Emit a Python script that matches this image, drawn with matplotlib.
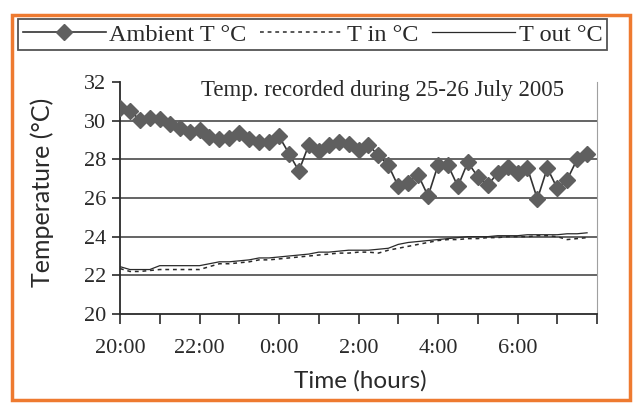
import numpy as np
import pandas as pd
import matplotlib
matplotlib.use("Agg")
import matplotlib.pyplot as plt
from matplotlib.lines import Line2D
from matplotlib.patches import Rectangle

# readings every 15 min, 25-26 July 2005
times = pd.date_range("2005-07-25 20:00", periods=48, freq="15min")

ambient = [30.65, 30.5, 30.05, 30.15, 30.1, 29.85, 29.6, 29.4, 29.5, 29.15,
           29.05, 29.1, 29.35, 29.05, 28.9, 28.9, 29.2, 28.3, 27.4, 28.75,
           28.45, 28.75, 28.9, 28.8, 28.5, 28.75, 28.2, 27.7, 26.6, 26.8,
           27.2, 26.1, 27.7, 27.7, 26.6, 27.85, 27.1, 26.65, 27.3, 27.6,
           27.3, 27.55, 25.95, 27.55, 26.5, 26.95, 28.0, 28.3]

t_in = [22.35, 22.2, 22.2, 22.25, 22.3, 22.3, 22.3, 22.3, 22.3, 22.45,
        22.6, 22.6, 22.65, 22.7, 22.8, 22.8, 22.85, 22.9, 22.95, 23.0,
        23.05, 23.1, 23.15, 23.15, 23.2, 23.2, 23.15, 23.3, 23.4, 23.5,
        23.6, 23.7, 23.8, 23.85, 23.85, 23.9, 23.9, 23.95, 23.95, 24.0,
        24.0, 24.0, 24.05, 24.05, 24.0, 23.85, 23.9, 23.95]

t_out = [22.45, 22.3, 22.3, 22.3, 22.5, 22.5, 22.5, 22.5, 22.5, 22.6,
         22.7, 22.7, 22.75, 22.8, 22.9, 22.9, 22.95, 23.0, 23.05, 23.1,
         23.2, 23.2, 23.25, 23.3, 23.3, 23.3, 23.35, 23.4, 23.6, 23.7,
         23.75, 23.8, 23.85, 23.9, 23.95, 24.0, 24.0, 24.0, 24.05, 24.05,
         24.05, 24.1, 24.1, 24.1, 24.1, 24.15, 24.15, 24.2]

hour_ticks = pd.date_range("2005-07-25 20:00", "2005-07-26 08:00", freq="1h")
hour_labels = ["20:00", "", "22:00", "", "0:00", "", "2:00", "", "4:00", "",
               "6:00", "", ""]
y_ticks = [20, 22, 24, 26, 28, 30, 32]

serif = "Liberation Serif"
sans = "Lato"
ink = "#2a2a2a"

fig = plt.figure(figsize=(6.35, 4.12), dpi=100)
ax = fig.add_axes([120 / 635, 1 - 314 / 412, 477 / 635, 232 / 412])

ax.plot(times, ambient, color="#333333", lw=1.2, marker="D", ms=8.5,
        mfc="#5f5f5f", mec="#5f5f5f", zorder=4)
ax.plot(times, t_in, color=ink, lw=1.1, ls=(0, (2.5, 2.5)), zorder=3)
ax.plot(times, t_out, color=ink, lw=0.9, zorder=3)

ax.set_xlim(hour_ticks[0], hour_ticks[-1])
ax.set_ylim(20, 32)
ax.set_xticks(hour_ticks)
ax.set_xticklabels(hour_labels, fontfamily=serif, fontsize=16, color=ink)
ax.set_yticks(y_ticks)
ax.set_yticklabels([str(v) for v in y_ticks], fontfamily=serif, fontsize=16,
                   color=ink)
ax.tick_params(axis="x", direction="out", length=7, width=1.2, pad=11,
               color=ink)
ax.tick_params(axis="y", direction="out", length=6, width=1.2, pad=4,
               color=ink)

for v in y_ticks[1:-1]:
    ax.axhline(v, color="#3a3a3a", lw=1.1, zorder=1)

ax.spines["top"].set_visible(False)
ax.spines["right"].set_color("#a0a0a0")
ax.spines["right"].set_linestyle((0, (1, 1)))
ax.spines["right"].set_linewidth(0.8)
ax.spines["left"].set_color(ink)
ax.spines["left"].set_linewidth(1.3)
ax.spines["bottom"].set_color(ink)
ax.spines["bottom"].set_linewidth(1.3)

ax.text(0.551, 0.965, "Temp. recorded during 25-26 July 2005",
        transform=ax.transAxes, ha="center", va="center",
        fontfamily=serif, fontsize=16.5, color=ink)

fig.text(360 / 635, 1 - 381 / 412, "Time (hours)", ha="center",
         va="center", fontfamily=sans, fontsize=17.5, color=ink)
fig.text(42 / 635, 1 - 192 / 412, "Temperature (°C)", ha="center",
         va="center", rotation=90, fontfamily=sans, fontsize=18, color=ink)

# orange frame around the chart
fig.add_artist(Rectangle((12 / 635, 1 - 400 / 412), 618 / 635, 385 / 412,
                         transform=fig.transFigure, fill=False,
                         edgecolor="#ee7a30", lw=2.5))

handles = [
    Line2D([], [], color="#333333", lw=1.2, marker="D", ms=8.5,
           mfc="#5f5f5f", mec="#5f5f5f"),
    Line2D([], [], color=ink, lw=1.1, ls=(0, (2.5, 2.5))),
    Line2D([], [], color=ink, lw=0.9),
]
labels = ["Ambient T °C", "T in °C", "T out °C"]
leg = fig.legend(handles, labels, loc="center", ncol=3, mode="expand",
                 bbox_to_anchor=(18 / 635, 1 - 51 / 412, 589 / 635, 33 / 412),
                 prop={"family": serif, "size": 17.5}, handlelength=3.4,
                 handletextpad=0.15, columnspacing=0.5, borderpad=0.2,
                 frameon=True, fancybox=False, borderaxespad=0)
leg.get_frame().set_edgecolor(ink)
leg.get_frame().set_linewidth(1.3)
for t in leg.get_texts():
    t.set_color(ink)

fig.savefig("out.png", dpi=100)
